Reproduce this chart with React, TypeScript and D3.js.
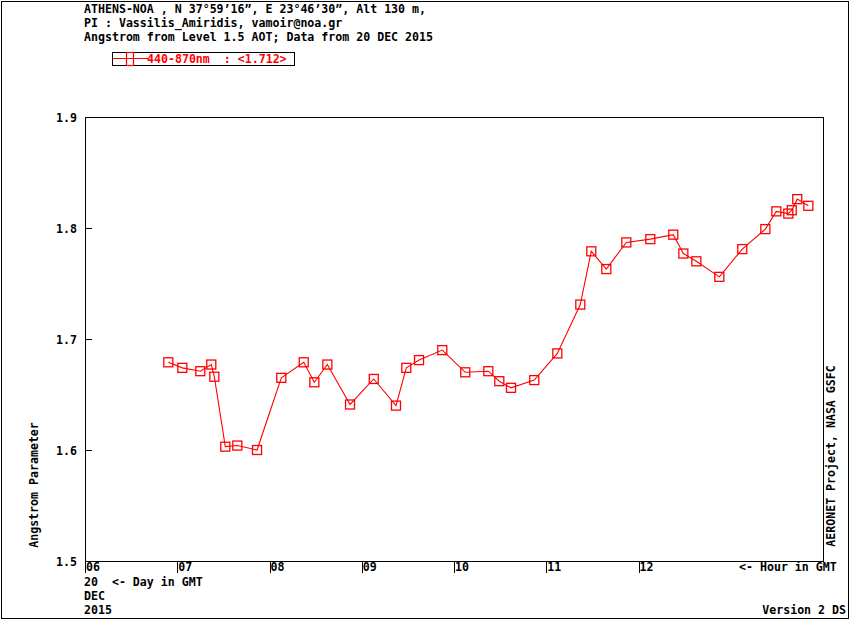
import { line, scaleLinear } from 'd3'

const WIDTH = 850
const HEIGHT = 620
const PLOT = { left: 85, right: 823, top: 117, bottom: 561 }
const FONT = '"DejaVu Sans Mono", "Liberation Mono", monospace'
const RED = '#ff0000'

const headerLines = [
  'ATHENS-NOA , N 37°59’16”, E 23°46’30”, Alt 130 m,',
  'PI : Vassilis_Amiridis, vamoir@noa.gr',
  'Angstrom from Level 1.5 AOT; Data from 20 DEC 2015',
]
const legendLabel = '440-870nm  : <1.712>'

const hourTicks = [6, 7, 8, 9, 10, 11, 12]
const hourLabels = ['06', '07', '08', '09', '10', '11', '12']
const valueTicks = [1.5, 1.6, 1.7, 1.8, 1.9]

// hour of day (GMT) and 440-870nm Angstrom exponent
const hours = [
  6.903, 7.055, 7.25, 7.369, 7.402, 7.521, 7.651, 7.865, 8.128, 8.371,
  8.486, 8.627, 8.873, 9.13, 9.371, 9.483, 9.621, 9.873, 10.122, 10.372,
  10.491, 10.618, 10.87, 11.12, 11.369, 11.488, 11.651, 11.868, 12.128, 12.377,
  12.486, 12.627, 12.876, 13.125, 13.375, 13.494, 13.624, 13.661, 13.721, 13.841,
]
const angstrom = [
  1.679, 1.674, 1.671, 1.677, 1.666, 1.603, 1.604, 1.6, 1.665, 1.679,
  1.661, 1.677, 1.641, 1.664, 1.64, 1.674, 1.681, 1.69, 1.67, 1.671,
  1.662, 1.656, 1.663, 1.687, 1.731, 1.779, 1.763, 1.787, 1.79, 1.794,
  1.777, 1.77, 1.756, 1.781, 1.799, 1.815, 1.813, 1.816, 1.826, 1.82,
]

const points = hours.map((h, i) => ({ h, v: angstrom[i] }))

export default function App() {
  const x = scaleLinear().domain([6, 14]).range([PLOT.left, PLOT.right])
  const y = scaleLinear().domain([1.5, 1.9]).range([PLOT.bottom, PLOT.top])
  const path = line<{ h: number; v: number }>()
    .x((d) => x(d.h))
    .y((d) => y(d.v))

  const textProps = {
    fontFamily: FONT,
    fontSize: 11.6,
    fontWeight: 700,
    fill: '#000',
    style: { whiteSpace: 'pre' as const },
  }
  const size = 9

  return (
    <svg
      width={WIDTH}
      height={HEIGHT}
      viewBox={`0 0 ${WIDTH} ${HEIGHT}`}
      style={{ position: 'absolute', left: 0, top: 0, background: '#fff' }}
    >
      <rect x={0} y={0} width={WIDTH} height={HEIGHT} fill="#fff" />
      <rect x={1.5} y={1.5} width={847} height={617} fill="none" stroke="#000" shapeRendering="crispEdges" />

      {headerLines.map((t, i) => (
        <text key={i} x={84} y={13 + i * 14} {...textProps}>
          {t}
        </text>
      ))}

      {/* legend */}
      <rect x={112.5} y={52.5} width={182} height={13} fill="none" stroke="#000" shapeRendering="crispEdges" />
      <line x1={113} x2={148} y1={58.5} y2={58.5} stroke={RED} strokeWidth={1.2} />
      <rect x={126.5} y={52.5} width={7} height={13} fill="none" stroke={RED} strokeWidth={1.2} />
      <text x={147} y={63} {...textProps} fill={RED}>
        {legendLabel}
      </text>

      {/* plot frame */}
      <rect
        x={PLOT.left + 0.5}
        y={PLOT.top + 0.5}
        width={PLOT.right - PLOT.left}
        height={PLOT.bottom - PLOT.top}
        fill="none"
        stroke="#000"
        shapeRendering="crispEdges"
      />

      {valueTicks.map((v) => (
        <g key={v}>
          {v > 1.5 && v < 1.9 && (
            <line
              x1={PLOT.left}
              x2={PLOT.left + 7}
              y1={Math.round(y(v)) + 0.5}
              y2={Math.round(y(v)) + 0.5}
              stroke="#000"
              shapeRendering="crispEdges"
            />
          )}
          <text x={77} y={y(v) + 4.5} textAnchor="end" {...textProps}>
            {v.toFixed(1)}
          </text>
        </g>
      ))}

      {hourTicks.map((h, i) => (
        <g key={h}>
          <line
            x1={Math.round(x(h)) + 0.5}
            x2={Math.round(x(h)) + 0.5}
            y1={PLOT.bottom}
            y2={PLOT.bottom + 12}
            stroke="#000"
            shapeRendering="crispEdges"
          />
          <text x={x(h) + 1} y={571} {...textProps}>
            {hourLabels[i]}
          </text>
        </g>
      ))}

      <text x={739} y={571} {...textProps}>
        {'<- Hour in GMT'}
      </text>
      <text x={84} y={586} {...textProps}>
        {'20  <- Day in GMT'}
      </text>
      <text x={84} y={600} {...textProps}>
        DEC
      </text>
      <text x={84} y={614} {...textProps}>
        2015
      </text>
      <text x={846} y={614} textAnchor="end" {...textProps}>
        Version 2 DS
      </text>

      <text transform="translate(38,485) rotate(-90)" textAnchor="middle" {...textProps}>
        Angstrom Parameter
      </text>
      <text transform="translate(835,456) rotate(-90)" textAnchor="middle" {...textProps}>
        AERONET Project, NASA GSFC
      </text>

      <path d={path(points) ?? ''} fill="none" stroke={RED} strokeWidth={1.1} />
      {points.map((d, i) => (
        <rect
          key={i}
          x={x(d.h) - size / 2}
          y={y(d.v) - size / 2}
          width={size}
          height={size}
          fill="none"
          stroke={RED}
          strokeWidth={1.3}
        />
      ))}
    </svg>
  )
}
